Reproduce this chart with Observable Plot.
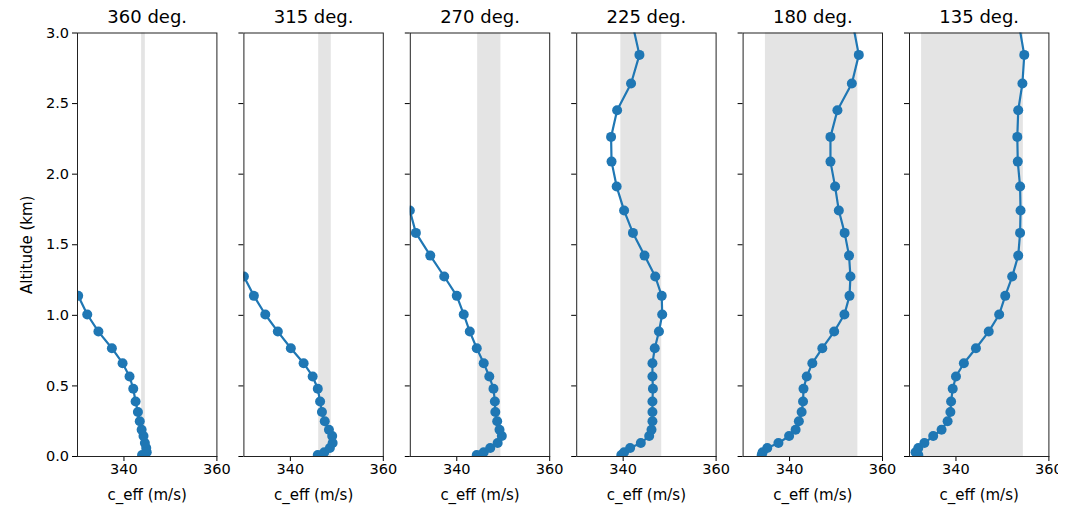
<!DOCTYPE html>
<html><head><meta charset="utf-8">
<script src="https://cdn.jsdelivr.net/npm/d3@7"></script>
<script src="https://cdn.jsdelivr.net/npm/@observablehq/plot@0.6"></script>
<style>
html,body{margin:0;padding:0;background:#fff;}
#fig{position:relative;width:1058px;height:506px;overflow:hidden;background:#fff;}
#fig svg{position:absolute;left:0;top:0;max-width:none !important;background:transparent !important;}
</style></head><body><div id="fig"></div>
<script>
const panelTitles = ["360 deg.", "315 deg.", "270 deg.", "225 deg.", "180 deg.", "135 deg."];
const altitude = [0.01, 0.03, 0.06, 0.095, 0.145, 0.19, 0.25, 0.315, 0.39, 0.48, 0.567, 0.661, 0.767, 0.885, 1.006, 1.138, 1.275, 1.423, 1.584, 1.742, 1.912, 2.089, 2.264, 2.453, 2.642, 2.845, 3.05];
const c360 = [343.9, 344.9, 344.8, 344.5, 344.2, 343.8, 343.4, 343.0, 342.5, 342.0, 341.2, 339.7, 337.4, 334.5, 332.1, 330.15, 327.6];
const c315 = [345.9, 347.3, 348.5, 349.1, 349.0, 348.3, 347.4, 346.8, 346.4, 345.9, 344.8, 342.85, 340.1, 337.3, 334.6, 332.15, 330.0, 327.6];
const c270 = [344.3, 345.8, 347.2, 348.8, 349.7, 349.2, 348.7, 348.3, 348.2, 347.9, 347.0, 345.8, 344.3, 342.8, 341.5, 340.0, 337.3, 334.3, 331.2, 329.9, 327.5];
const c225 = [339.6, 340.2, 341.5, 343.8, 345.6, 346.1, 346.3, 346.3, 346.3, 346.4, 346.3, 346.3, 346.8, 347.7, 348.4, 348.3, 346.9, 344.6, 342.1, 340.2, 338.6, 337.5, 337.4, 338.7, 341.7, 343.5, 342.1];
const c180 = [334.0, 334.2, 335.2, 337.6, 339.9, 341.3, 342.0, 342.6, 342.9, 343.0, 343.7, 344.9, 347.05, 349.6, 351.8, 352.9, 353.1, 352.8, 351.85, 350.6, 349.8, 348.8, 348.8, 350.3, 353.4, 354.9, 353.7];
const c135 = [331.9, 331.3, 331.9, 333.2, 335.1, 336.9, 338.2, 338.8, 338.95, 339.3, 340.0, 341.7, 344.3, 347.05, 349.3, 350.6, 352.1, 353.4, 353.8, 353.9, 353.8, 353.3, 353.2, 353.4, 354.3, 354.7, 353.6];
const bandLow  = [343.8, 346.1, 344.5, 339.5, 334.8, 332.6];
const bandHigh = [344.6, 348.8, 349.5, 348.3, 354.7, 354.5];
const xTicks = [340, 360];
const yTicks = [0, 0.5, 1.0, 1.5, 2.0, 2.5, 3.0];
const xLabel = "c_eff (m/s)";
const yLabel = "Altitude (km)";

const series = [c360, c315, c270, c225, c180, c135];
const W = 1076, H = 506;
const fig = document.getElementById("fig");
const blue = "#1f77b4";
const font = "DejaVu Sans, sans-serif";

series.forEach((vals, i) => {
  const rows = vals.map((c, k) => ({c, alt: altitude[k]}));
  const left = 77 + i * 166.4;
  const right = left + 139.4;
  const marks = [
    Plot.rect([{x1: bandLow[i], x2: bandHigh[i]}], {x1: "x1", x2: "x2", fill: "#e4e4e4"}),
    Plot.line(rows, {x: "c", y: "alt", stroke: blue, strokeWidth: 2.2, clip: true}),
    Plot.dot(rows, {x: "c", y: "alt", r: 5, fill: blue, stroke: "none", clip: true}),
    Plot.frame({stroke: "#222", strokeWidth: 1}),
    Plot.text([panelTitles[i]], {frameAnchor: "top", lineAnchor: "middle", dy: -16, fontSize: 18, textAnchor: "middle", fill: "#000"}),
    Plot.text([xLabel], {frameAnchor: "bottom", lineAnchor: "middle", dy: 39, fontSize: 15, textAnchor: "middle", fill: "#000"})
  ];
  if (i === 0) {
    marks.push(Plot.text([yLabel], {frameAnchor: "left", lineAnchor: "middle", dx: -50, rotate: -90, fontSize: 15, textAnchor: "middle", fill: "#000"}));
  }
  const svg = Plot.plot({
    width: W, height: H,
    marginLeft: left, marginRight: W - right, marginTop: 32.5, marginBottom: 50,
    x: {domain: [330, 360], ticks: xTicks, tickFormat: d3.format("d"), tickSize: 5, tickPadding: 2, label: null},
    y: {domain: [0, 3], ticks: yTicks, tickFormat: i === 0 ? d3.format(".1f") : () => "", tickSize: 5, tickPadding: 3.5, label: null},
    style: {fontFamily: font, fontSize: "14.5px", color: "#000", background: "transparent"},
    marks
  });
  fig.appendChild(svg);
});
</script>
</body></html>
